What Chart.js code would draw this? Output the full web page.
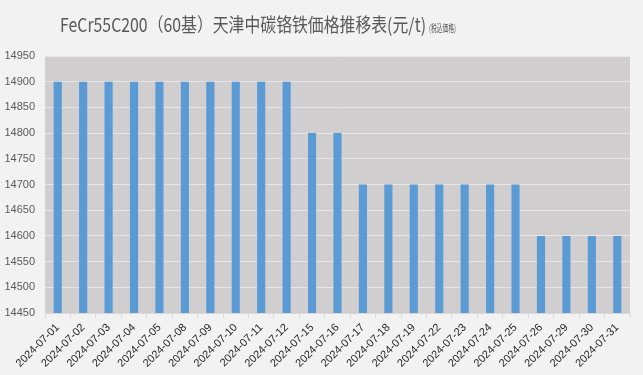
<!DOCTYPE html>
<html>
<head>
<meta charset="utf-8">
<script src="https://cdn.jsdelivr.net/npm/chart.js@4/dist/chart.umd.min.js"></script>
<style>
  html, body { margin: 0; padding: 0; background: #f2f2f2; }
</style>
</head>
<body>
<canvas id="grafico" width="643" height="375"></canvas>
<script>
// datas e precos (元/t)
const datas = ['2024-07-01', '2024-07-02', '2024-07-03', '2024-07-04', '2024-07-05',
    '2024-07-08', '2024-07-09', '2024-07-10', '2024-07-11', '2024-07-12',
    '2024-07-15', '2024-07-16', '2024-07-17', '2024-07-18', '2024-07-19',
    '2024-07-22', '2024-07-23', '2024-07-24', '2024-07-25', '2024-07-26',
    '2024-07-29', '2024-07-30', '2024-07-31'];
const precos = [14900, 14900, 14900, 14900, 14900, 14900, 14900, 14900, 14900, 14900,
    14800, 14800, 14700, 14700, 14700, 14700, 14700, 14700, 14700,
    14600, 14600, 14600, 14600];
const yMin = 14450;
const yMax = 14950;
const yPasso = 50;
const titulo = 'FeCr55C200（60基）天津中碳铬铁価格推移表(元/t)';
const subtitulo = '(税込価格)';

// fundo cinza da area do grafico + titulo
const fundoPlugin = {
    id: 'fundo',
    beforeDraw(chart) {
        const ctx = chart.ctx;
        const a = chart.chartArea;
        ctx.save();
        ctx.fillStyle = '#f2f2f2';
        ctx.fillRect(0, 0, chart.width, chart.height);
        ctx.fillStyle = '#d0cece';
        ctx.fillRect(a.left, a.top, a.right - a.left, a.bottom - a.top);
        ctx.restore();
    },
    afterDraw(chart) {
        const ctx = chart.ctx;
        ctx.save();
        ctx.textBaseline = 'alphabetic';
        ctx.fillStyle = '#595959';
        ctx.font = '19px "Noto Sans CJK SC", sans-serif';
        // largura limitada para ficar parecido com a fonte estreita do original
        ctx.fillText(titulo, 60, 32, 366);
        ctx.font = '10px "Noto Sans CJK JP", sans-serif';
        ctx.fillText(subtitulo, 429, 32, 27);
        ctx.restore();
    }
};

const config = {
    type: 'bar',
    data: {
        labels: datas,
        datasets: [{
            data: precos,
            backgroundColor: '#5b9bd5',
            barPercentage: 0.32,
            categoryPercentage: 1
        }]
    },
    options: {
        responsive: false,
        animation: false,
        layout: { padding: { top: 56, right: 13, left: 0, bottom: 0 } },
        plugins: {
            legend: { display: false },
            tooltip: { enabled: false }
        },
        scales: {
            x: {
                grid: { offset: true, drawOnChartArea: false, color: '#d9d9d9', tickLength: 5 },
                border: { color: '#d9d9d9' },
                ticks: {
                    minRotation: 45, maxRotation: 45, autoSkip: false,
                    color: '#262626',
                    font: { family: 'Liberation Sans', size: 11 }
                },
                afterFit(s) { s.height = 62; }
            },
            y: {
                min: yMin,
                max: yMax,
                grid: { color: '#e6e6e6', drawTicks: false },
                border: { display: false },
                ticks: {
                    stepSize: yPasso,
                    padding: 10,
                    color: '#595959',
                    font: { family: 'Liberation Sans', size: 11 },
                    callback: v => String(v)
                },
                afterFit(s) { s.width = 45; }
            }
        }
    },
    plugins: [fundoPlugin]
};

let myChart = new Chart(document.getElementById('grafico'), config);
</script>
</body>
</html>
